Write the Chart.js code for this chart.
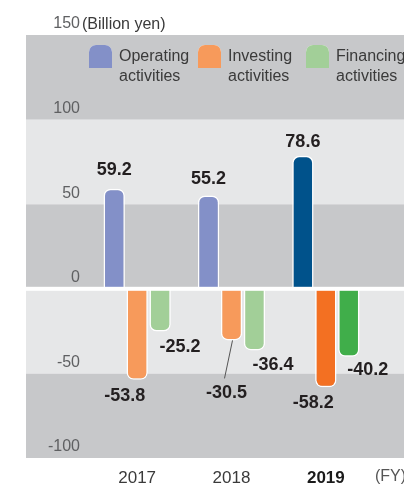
<!DOCTYPE html>
<html><head><meta charset="utf-8">
<script src="https://cdn.jsdelivr.net/npm/chart.js@4"></script>
<style>html,body{margin:0;padding:0;background:#fff}#wrap{width:404px;height:486px;position:relative}</style>
</head><body><div id="wrap"><canvas id="c" width="404" height="486"></canvas></div>
<script>
const categories = ['2017', '2018', '2019'];
const operating = [59.2, 55.2, 78.6];
const investing = [-53.8, -30.5, -58.2];
const financing = [-25.2, -36.4, -40.2];
const seriesNames = [['Operating', 'activities'], ['Investing', 'activities'], ['Financing', 'activities']];
const yTicks = [-100, -50, 0, 50, 100, 150];
const unitLabel = '(Billion yen)';
const fyLabel = '(FY)';

const FONT = "'Liberation Sans', Arial, sans-serif";
const lightCol = ['#8390c8', '#f79a5b', '#a2cf98'];
const darkCol = ['#00528b', '#f37022', '#40ae4a'];
const bandDark = '#c7c8ca', bandLight = '#e6e7e8';

// label placement tweaks (pixels, relative to bar end) per dataset/point
const labelOffsets = [
  [[0, -19], [0, -16.5], [0, -13.5]],
  [[-12.5, 16.5], [-5, 53], [-12.5, 16]],
  [[20, 15.5], [18.5, 14.5], [19, 13]]
];

function colorsFor(i) { return categories.map((c, k) => k === categories.length - 1 ? darkCol[i] : lightCol[i]); }

const bandsPlugin = {
  id: 'bands',
  beforeDraw(chart) {
    const ctx = chart.ctx, y = chart.scales.y;
    const left = 26, right = chart.width;
    ctx.save();
    for (let i = 0; i < yTicks.length - 1; i++) {
      const a = y.getPixelForValue(yTicks[i]), b = y.getPixelForValue(yTicks[i + 1]);
      ctx.fillStyle = (i % 2 === 0) ? bandDark : bandLight;
      ctx.fillRect(left, b, right - left, a - b);
    }
    ctx.restore();
  },
  afterDatasetsDraw(chart) {
    const ctx = chart.ctx, y = chart.scales.y;
    const y0 = y.getPixelForValue(0);
    ctx.save();
    ctx.fillStyle = '#ffffff';
    ctx.fillRect(26, y0 - 2, chart.width - 26, 4);
    // data labels
    ctx.font = 'bold 18px ' + FONT;
    ctx.fillStyle = '#231f20';
    ctx.textAlign = 'center';
    ctx.textBaseline = 'middle';
    chart.data.datasets.forEach((ds, di) => {
      const meta = chart.getDatasetMeta(di);
      meta.data.forEach((el, pi) => {
        const v = ds.data[pi];
        const off = labelOffsets[di][pi];
        const lx = el.x + off[0], ly = el.y + off[1];
        if (di === 1 && pi === 1) {
          ctx.save();
          ctx.strokeStyle = '#555555';
          ctx.lineWidth = 1;
          ctx.beginPath();
          ctx.moveTo(el.x + 1, el.y);
          ctx.lineTo(lx - 2, ly - 15);
          ctx.stroke();
          ctx.restore();
        }
        ctx.fillText(v.toFixed(1), lx, ly);
      });
    });
    // unit label and FY label
    ctx.font = '16px ' + FONT;
    ctx.fillStyle = '#3a3a3a';
    ctx.textAlign = 'left';
    ctx.fillText(unitLabel, 82, y.getPixelForValue(150) - 10);
    ctx.fillStyle = '#555555';
    ctx.fillText(fyLabel, 375, 477);
    // legend
    const lx = [89, 198, 306];
    seriesNames.forEach((nm, i) => {
      const bx = lx[i], by = 45, bw = 23, bh = 23, r = 7;
      ctx.beginPath();
      ctx.moveTo(bx, by + bh);
      ctx.lineTo(bx, by + r);
      ctx.arcTo(bx, by, bx + r, by, r);
      ctx.lineTo(bx + bw - r, by);
      ctx.arcTo(bx + bw, by, bx + bw, by + r, r);
      ctx.lineTo(bx + bw, by + bh);
      ctx.closePath();
      ctx.fillStyle = '#ffffff';
      ctx.fill();
      ctx.save();
      ctx.translate(bx + bw / 2, by + bh);
      ctx.scale((bw - 3) / bw, (bh - 1.5) / bh);
      ctx.translate(-(bx + bw / 2), -(by + bh));
      ctx.fillStyle = lightCol[i];
      ctx.fill();
      ctx.restore();
      ctx.fillStyle = '#3a3a3a';
      ctx.font = '16px ' + FONT;
      ctx.fillText(nm[0], bx + bw + 7, 57);
      ctx.fillText(nm[1], bx + bw + 7, 77);
    });
    ctx.restore();
  }
};

const names = seriesNames.map(n => n.join(' '));
new Chart(document.getElementById('c'), {
  type: 'bar',
  data: {
    labels: categories,
    datasets: [operating, investing, financing].map((d, i) => ({
      label: names[i],
      data: d,
      backgroundColor: colorsFor(i),
      borderColor: '#ffffff',
      borderWidth: 1.5,
      borderSkipped: 'start',
      borderRadius: 7,
      categoryPercentage: 0.73,
      barPercentage: 0.93
    }))
  },
  options: {
    responsive: false,
    animation: false,
    devicePixelRatio: 1,
    layout: { padding: { top: 35, right: 31, bottom: 0, left: 0 } },
    plugins: { legend: { display: false }, tooltip: { enabled: false } },
    scales: {
      x: {
        grid: { display: false, drawTicks: false },
        border: { display: false },
        ticks: {
          padding: 10,
          color: (c) => c.index === 2 ? '#1a1a1a' : '#3a3a3a',
          font: (c) => ({ family: FONT, size: 17, weight: c.index === 2 ? 'bold' : 'normal' })
        },
        afterFit(s) { s.height = 28; }
      },
      y: {
        min: -100, max: 150,
        afterBuildTicks(s) { s.ticks = yTicks.map(v => ({ value: v })); },
        grid: { display: false, drawTicks: false },
        border: { display: false },
        ticks: {
          padding: 10,
          labelOffset: -11,
          color: '#5f6062',
          font: { family: FONT, size: 16 }
        },
        afterFit(s) { s.width = 90; }
      }
    }
  },
  plugins: [bandsPlugin]
});
</script></body></html>
